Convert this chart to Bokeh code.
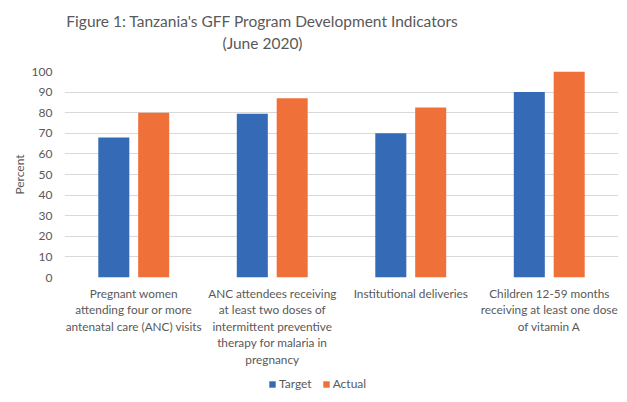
from bokeh.plotting import figure
from bokeh.layouts import column
from bokeh.models import FactorRange, Range1d, FixedTicker, Legend, LegendItem, Label
from bokeh.transform import dodge
from bokeh.embed import file_html
from bokeh.resources import INLINE

categories = [
    "Pregnant women\nattending four or more\nantenatal care (ANC) visits",
    "ANC attendees receiving\nat least two doses of\nintermittent preventive\ntherapy for malaria in\npregnancy",
    "Institutional deliveries",
    "Children 12-59 months\nreceiving at least one dose\nof vitamin A",
]
target = [68, 79.5, 70, 90]
actual = [80, 87, 82.5, 100]
y_ticks = [0, 10, 20, 30, 40, 50, 60, 70, 80, 90, 100]
series_names = ["Target", "Actual"]
colors = ["#346AB6", "#F0703A"]
title_lines = ["Figure 1: Tanzania's GFF Program Development Indicators", "(June 2020)"]

FONT = "Lato"
GRAY = "#595959"
W = 619

src = dict(cat=categories, target=target, actual=actual)

# ---- title strip ----
tf = figure(width=W, height=60, x_range=Range1d(0, 1), y_range=Range1d(0, 1),
            x_axis_type=None, y_axis_type=None, output_backend="svg",
            toolbar_location=None, min_border=0)
tf.outline_line_color = None
for t, y in zip(title_lines, [40, 18]):
    tf.add_layout(Label(x=198, y=y, x_units="screen", y_units="screen", text=t,
                        text_align="center", text_baseline="alphabetic",
                        text_font=FONT, text_font_size="15.5px", text_color=GRAY))

# ---- main chart ----
p = figure(x_range=FactorRange(*categories), y_range=Range1d(0, 100),
           width=W, height=317, output_backend="svg", toolbar_location=None,
           min_border_left=64, min_border_right=1, min_border_top=11, min_border_bottom=100)
p.outline_line_color = None

p.vbar(x=dodge("cat", -0.144, range=p.x_range), top="target", width=0.224,
       source=src, color=colors[0], line_color=None)
p.vbar(x=dodge("cat", 0.144, range=p.x_range), top="actual", width=0.224,
       source=src, color=colors[1], line_color=None)

p.xgrid.grid_line_color = None
p.ygrid.grid_line_color = "#D9D9D9"
p.ygrid.grid_line_width = 1
p.yaxis.ticker = FixedTicker(ticks=y_ticks)

for ax in (p.xaxis[0], p.yaxis[0]):
    ax.axis_line_color = None
    ax.major_tick_line_color = None
    ax.minor_tick_line_color = None
    ax.major_tick_out = 0
    ax.major_label_text_font = FONT
    ax.major_label_text_color = GRAY

p.yaxis.major_label_text_font_size = "12px"
p.xaxis.major_label_text_font_size = "11.8px"
p.xaxis.major_label_text_line_height = 1.1
p.yaxis.major_label_standoff = 12
p.yaxis.axis_label = "Percent"
p.yaxis.axis_label_text_font = FONT
p.yaxis.axis_label_text_font_size = "12px"
p.yaxis.axis_label_text_font_style = "normal"
p.yaxis.axis_label_text_color = GRAY
p.yaxis.axis_label_standoff = 2
p.xaxis.major_label_standoff = 8

# ---- legend strip (hidden copies of the two series supply the legend keys) ----
lf = figure(width=W, height=17, x_range=FactorRange(*categories), y_range=Range1d(0, 100),
            x_axis_type=None, y_axis_type=None, output_backend="svg",
            toolbar_location=None, min_border=0)
lf.outline_line_color = None
lf.xgrid.grid_line_color = None
lf.ygrid.grid_line_color = None
k1 = lf.vbar(x="cat", top="target", width=0.224, source=src, color=colors[0],
             line_color=None, visible=False)
k2 = lf.vbar(x="cat", top="actual", width=0.224, source=src, color=colors[1],
             line_color=None, visible=False)
legend = Legend(items=[LegendItem(label=series_names[0], renderers=[k1]),
                       LegendItem(label=series_names[1], renderers=[k2])],
                orientation="horizontal", location=(204, 3),
                glyph_width=8, glyph_height=8, label_height=14, label_width=0,
                label_text_font=FONT, label_text_font_size="12px", label_text_color=GRAY,
                padding=0, margin=0, spacing=10, label_standoff=3,
                inactive_fill_alpha=0,
                border_line_color=None, background_fill_alpha=0)
lf.add_layout(legend, "center")

layout = column(tf, p, lf, spacing=0)
open("out.html", "w").write(file_html(layout, INLINE))
